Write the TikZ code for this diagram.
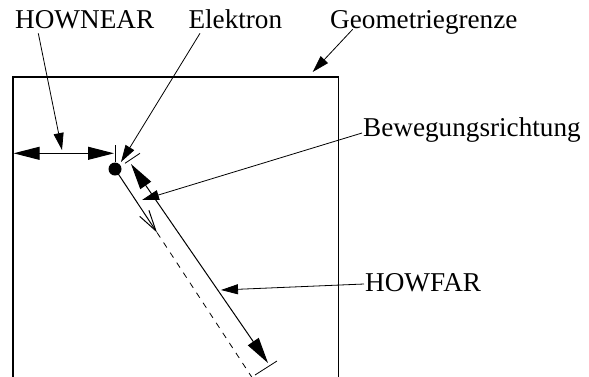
\documentclass[tikz,border=0pt]{standalone}
\usepackage{fontspec}
\setmainfont{Liberation Serif}
\usetikzlibrary{arrows.meta}
\begin{document}
\begin{tikzpicture}[x=1pt,y=-1pt,
  lbl/.style={inner sep=0pt, anchor=base west, font=\fontsize{27.2}{30}\selectfont},
  ptr/.style={line width=0.8pt, -{Triangle[length=17pt,width=10pt]}},
  dimline/.style={line width=1pt, {Triangle[length=26pt,width=13pt]}-{Triangle[length=26pt,width=13pt]}},
  tick/.style={line width=0.8pt}]
\useasboundingbox (0,0) rectangle (589,376);
% labels
\node[lbl] (hownear) at (15,28.3) {HOWNEAR};
\node[lbl] (elektron) at (188.3,28.3) {Elektron};
\node[lbl] (geo) at (330,28.3) {Geometriegrenze};
\node[lbl] (beweg) at (363,136) {Bewegungsrichtung};
\node[lbl] (howfar) at (365,291.7) {HOWFAR};
% geometry boundary
\draw[line width=1.1pt] (13,377) |- (338.5,77) -- (338.5,377);
% electron
\coordinate (E) at (115,169);
\fill (E) circle (6.5);
% ticks
\draw[tick] (115,145) -- (115,162);
\draw[tick] (125,163.3) -- (140,153.3);
\draw[tick] (255,375) -- (277,361);
% dimension arrows
\coordinate (nearL) at (13.6,153.3);
\coordinate (nearR) at (114,153.3);
\draw[dimline] (nearL) -- (nearR);
\coordinate (farT) at (131,164);
\coordinate (farB) at (268,363);
\draw[dimline] (farT) -- (farB);
% direction of motion
\coordinate (dirTip) at (157,232.5);
\coordinate (trajEnd) at (253,379);
\draw[line width=1pt, -{Straight Barb[length=21pt,width=11pt]}] (E) -- (dirTip);
\draw[line width=0.8pt, dash pattern=on 6pt off 6pt] (dirTip) -- (trajEnd);
% pointers
\coordinate (pNear) at (38.3,33.3);
\coordinate (pNearT) at (62,150);
\draw[ptr] (pNear) -- (pNearT);
\coordinate (pEl) at (200,33.3);
\coordinate (pElT) at (121,162);
\draw[ptr] (pEl) -- (pElT);
\coordinate (pGeo) at (352.7,29.3);
\coordinate (pGeoT) at (312.7,72);
\draw[ptr] (pGeo) -- (pGeoT);
\coordinate (pBew) at (362,133);
\coordinate (pBewT) at (142,200);
\draw[ptr] (pBew) -- (pBewT);
\coordinate (pFar) at (364,284);
\coordinate (pFarT) at (221,290);
\draw[ptr] (pFar) -- (pFarT);
\end{tikzpicture}
\end{document}
